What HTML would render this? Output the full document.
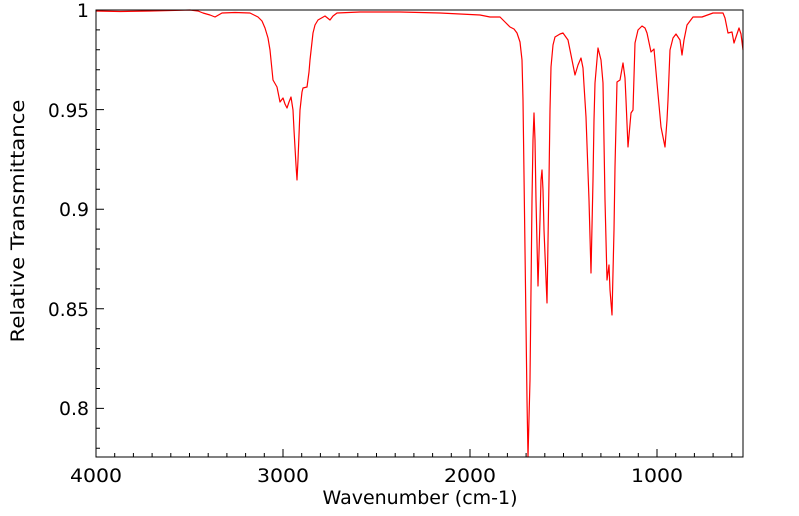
<!DOCTYPE html>
<html><head><style>body{margin:0;background:#fff}svg{display:block}text{font-family:"DejaVu Sans","Liberation Sans",sans-serif;fill:#000}</style></head>
<body>
<svg width="799" height="516" viewBox="0 0 799 516" xmlns="http://www.w3.org/2000/svg">
<rect x="0" y="0" width="799" height="516" fill="#fff"/>
<g stroke="#000" stroke-width="1">
<path id="ticks" d=""/>
</g>
<path fill="none" stroke="#ff0000" stroke-width="1.2" stroke-linejoin="round" d="M96,11 L120,11.5 L150,11 L170,10.5 L190,10 L198,11 L203,13 L210,15 L215,17 L222,13 L235,12.5 L250,13 L258,17 L262,21 L265,28 L268,38 L270,50 L272,70 L273,80 L277,87 L280,102 L283,98 L285,104 L287,108 L289,102 L291,97 L293,110 L294,130 L296,165 L297,180 L298,160 L300,110 L302,92 L303,88 L307,87 L309,72 L310,60 L312,42 L313,33 L315,25 L318,20 L325,16 L330,20 L333,16 L337,13 L360,12 L400,12 L440,13 L460,14 L480,15 L490,17 L500,17 L505,22 L510,27 L514,29 L517,33 L520,42 L522,60 L523,100 L525,250 L527,400 L528,457 L530,380 L532,200 L533,140 L534,113 L535,140 L536,200 L538,286 L540,220 L541,180 L542,170 L543,190 L544,230 L547,303 L549,180 L550,110 L551,67 L553,45 L555,37 L560,34 L563,33 L568,40 L572,60 L575,75 L578,65 L581,58 L583,68 L584,85 L586,117 L589,200 L591,273 L593,180 L594,120 L595,83 L598,48 L601,60 L603,83 L605,200 L607,280 L609,265 L610,290 L612,315 L614,230 L615,167 L617,82 L620,80 L623,63 L625,78 L626,100 L628,147 L631,113 L633,110 L635,43 L638,30 L642,26 L645,28 L647,33 L651,52 L654,49 L657,83 L661,127 L665,147 L667,120 L668,100 L670,50 L673,38 L676,34 L680,40 L682,55 L684,40 L687,25 L693,17 L702,17 L713,13 L723,13 L725,18 L728,33 L732,32 L734,43 L739,28 L741,34 L743,50"/>
<rect x="96" y="10" width="647" height="447" fill="none" stroke="#000" stroke-width="1"/>
<g font-size="19" text-anchor="end">
<text x="89" y="17">1</text>
<text x="89" y="117" textLength="41" lengthAdjust="spacingAndGlyphs">0.95</text>
<text x="89" y="216" textLength="30" lengthAdjust="spacingAndGlyphs">0.9</text>
<text x="89" y="316" textLength="41" lengthAdjust="spacingAndGlyphs">0.85</text>
<text x="89" y="415" textLength="30" lengthAdjust="spacingAndGlyphs">0.8</text>
</g>
<g font-size="19" text-anchor="middle">
<text x="96" y="482" textLength="52" lengthAdjust="spacingAndGlyphs">4000</text>
<text x="283" y="482" textLength="52" lengthAdjust="spacingAndGlyphs">3000</text>
<text x="470" y="482" textLength="52" lengthAdjust="spacingAndGlyphs">2000</text>
<text x="657" y="482" textLength="52" lengthAdjust="spacingAndGlyphs">1000</text>
<text x="420" y="504" textLength="195" lengthAdjust="spacingAndGlyphs">Wavenumber (cm-1)</text>
</g>
<text font-size="19" text-anchor="middle" textLength="243" lengthAdjust="spacingAndGlyphs" transform="translate(24,221) rotate(-90)">Relative Transmittance</text>
<script>
var d="";
for(var w=4000;w>=540;w-=100){var x=96+(4000-w)*0.187;var L=(w%1000==0)?8:4;d+="M"+x.toFixed(1)+",457 v-"+L+" ";}
for(var i=0;i<=22;i++){var v=1-i*0.01;var y=10+(1-v)*1992;if(y>457)break;var L=(i%5==0)?8:4;d+="M96,"+y.toFixed(1)+" h"+L+" ";}
document.getElementById("ticks").setAttribute("d",d);
</script>
</svg>
</body></html>
